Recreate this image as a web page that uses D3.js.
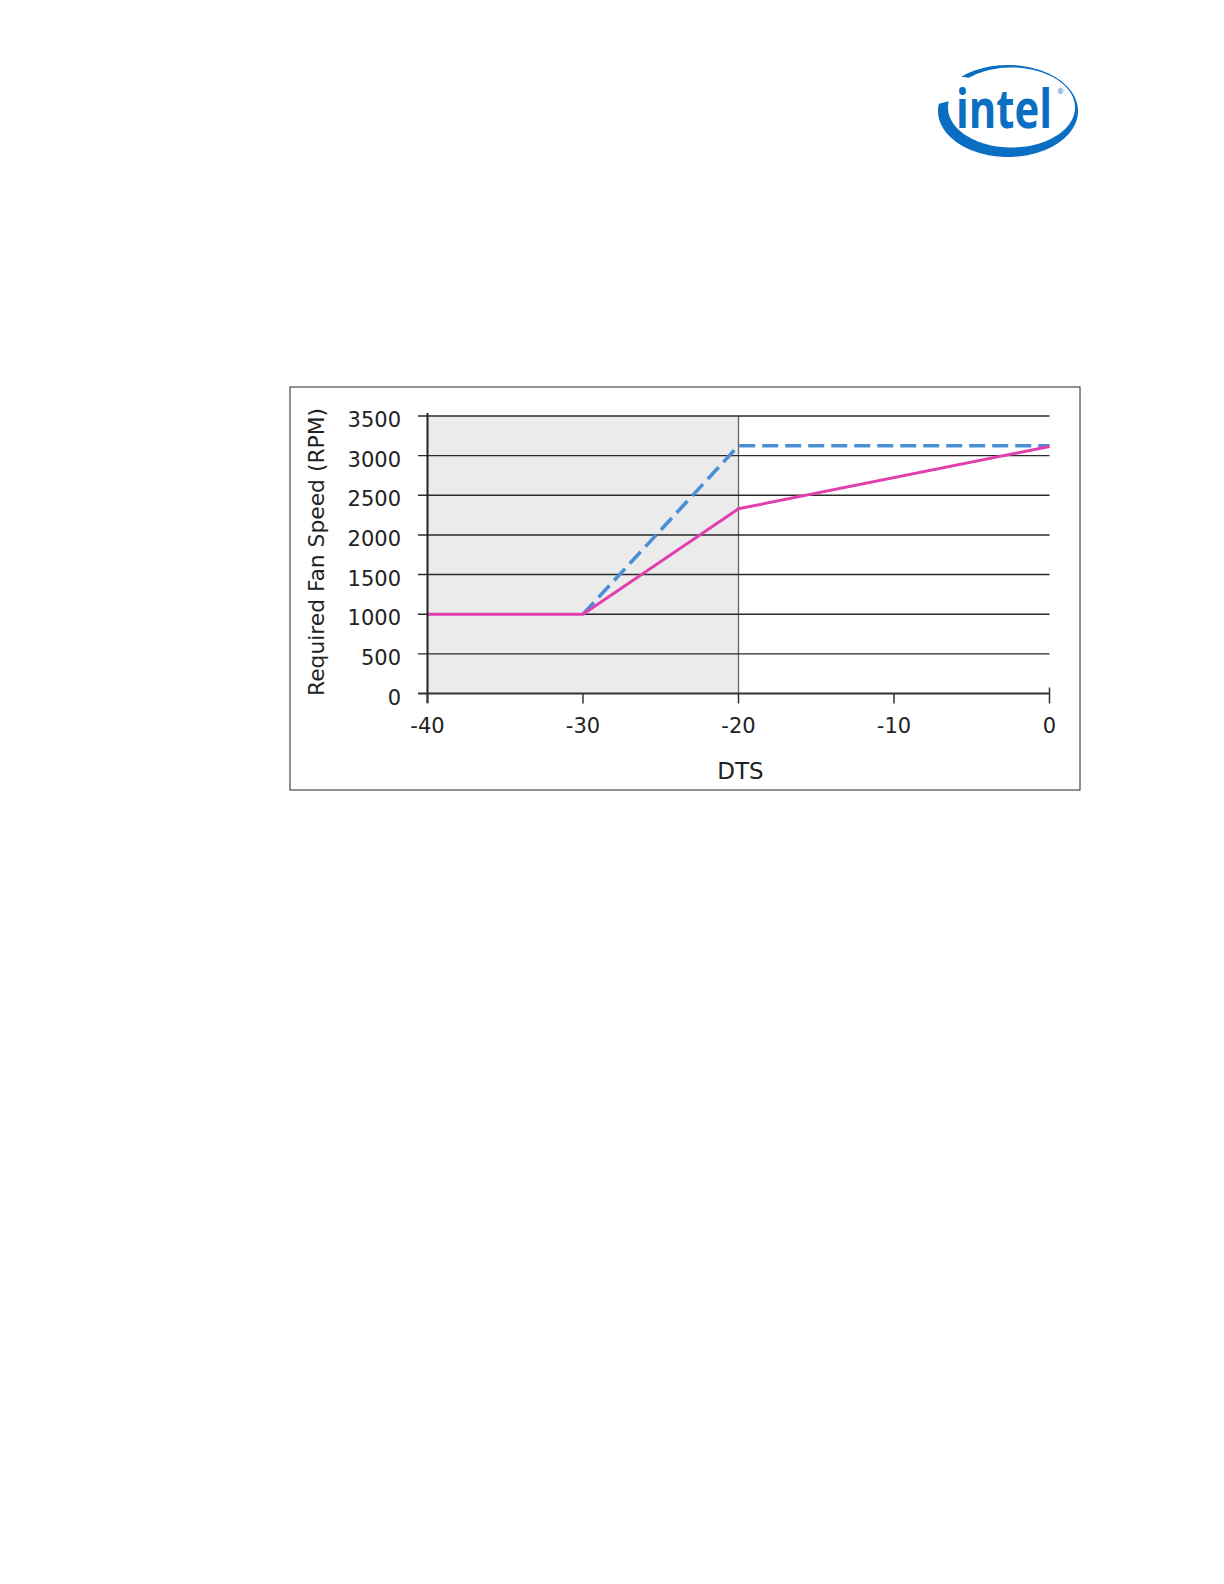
<!DOCTYPE html>
<html>
<head>
<meta charset="utf-8">
<script src="https://cdn.jsdelivr.net/npm/d3@7"></script>
<style>
  html, body { margin: 0; padding: 0; background: #fff; }
  svg { display: block; }
  text { font-family: "DejaVu Sans", Verdana, sans-serif; fill: #222; }
</style>
</head>
<body>
<script>
// ---- data ----
const xTicks = [-40, -30, -20, -10, 0];
const yTicks = [0, 500, 1000, 1500, 2000, 2500, 3000, 3500];
const pinkDTS = [-40, -30, -20, 0];
const pinkRPM = [1000, 1000, 2330, 3115];
const blueDTS = [-30, -20, 0];
const blueRPM = [1000, 3125, 3125];
const shadeRange = [-40, -20];
const yTitle = "Required Fan Speed (RPM)";
const xTitle = "DTS";

const W = 1224, H = 1584;
const svg = d3.select("body").append("svg").attr("width", W).attr("height", H);

// ---- Intel logo ----
const logo = svg.append("g");
(function () {
  const o = {cx: 1008, cy: 111, rx: 70, ry: 46};
  const inn = {cx: 1011.5, cy: 107.5, rx: 63.5, ry: 40};
  const t0 = 228 * Math.PI / 180, t1 = 549 * Math.PI / 180;
  const n = 120;
  const pts = [];
  for (let i = 0; i <= n; i++) {
    const t = t0 + (t1 - t0) * i / n;
    pts.push([o.cx + o.rx * Math.cos(t), o.cy + o.ry * Math.sin(t)]);
  }
  for (let i = n; i >= 0; i--) {
    const t = t0 + (t1 - t0) * i / n;
    pts.push([inn.cx + inn.rx * Math.cos(t), inn.cy + inn.ry * Math.sin(t)]);
  }
  logo.append("path").attr("d", d3.line()(pts) + "Z").attr("fill", "#0a6fc2");
  const word = logo.append("text")
    .attr("transform", "translate(956,128)")
    .style("font-family", "'Open Sans', sans-serif").style("font-weight", 700)
    .style("font-size", "53px").style("fill", "#0a6fc2").text("intel");
  const w = word.node().getComputedTextLength();
  word.attr("transform", `translate(956,128) scale(${96 / w},1)`);
  logo.append("text").attr("x", 1057).attr("y", 94)
    .style("font-family", "'Open Sans', sans-serif")
    .style("font-size", "8px").style("fill", "#0a6fc2").text("®");
})();

// ---- chart frame ----
svg.append("rect").attr("x", 290).attr("y", 387).attr("width", 790).attr("height", 403)
  .attr("fill", "#fff").attr("stroke", "#222").attr("stroke-width", 1);

const x = d3.scaleLinear().domain([-40, 0]).range([427.5, 1049.5]);
const y = d3.scaleLinear().domain([0, 3500]).range([693.5, 416]);

// shaded region
svg.append("rect")
  .attr("x", x(shadeRange[0])).attr("y", y(3500))
  .attr("width", x(shadeRange[1]) - x(shadeRange[0]))
  .attr("height", y(0) - y(3500))
  .attr("fill", "#ebebeb");
svg.append("line")
  .attr("x1", x(shadeRange[1])).attr("x2", x(shadeRange[1]))
  .attr("y1", y(3500)).attr("y2", y(0))
  .attr("stroke", "#666").attr("stroke-width", 1.3);

// gridlines + y ticks
svg.append("g").selectAll("line").data(yTicks.filter(d => d > 0)).join("line")
  .attr("x1", 418).attr("x2", x(0))
  .attr("y1", d => y(d)).attr("y2", d => y(d))
  .attr("stroke", "#2a2a2a").attr("stroke-width", 1.4);

// y tick labels
svg.append("g").selectAll("text").data(yTicks).join("text")
  .attr("x", 401).attr("y", d => y(d) + 11)
  .attr("text-anchor", "end")
  .style("font-size", "21px")
  .text(d => d);

// series
const line = d3.line().x(d => x(d[0])).y(d => y(d[1]));
svg.append("path")
  .attr("d", line(blueDTS.map((d, i) => [d, blueRPM[i]])))
  .attr("fill", "none").attr("stroke", "#4a8fd6").attr("stroke-width", 3.6)
  .attr("stroke-dasharray", "16,7");
svg.append("path")
  .attr("d", line(pinkDTS.map((d, i) => [d, pinkRPM[i]])))
  .attr("fill", "none").attr("stroke", "#e23fae").attr("stroke-width", 3);

// axes
svg.append("line").attr("x1", x(-40)).attr("x2", x(-40)).attr("y1", 413).attr("y2", 703)
  .attr("stroke", "#222").attr("stroke-width", 2);
svg.append("line").attr("x1", 418).attr("x2", x(0)).attr("y1", y(0)).attr("y2", y(0))
  .attr("stroke", "#333").attr("stroke-width", 2);
svg.append("g").selectAll("line").data(xTicks).join("line")
  .attr("x1", d => x(d)).attr("x2", d => x(d))
  .attr("y1", d => d === 0 ? y(0) - 6 : y(0)).attr("y2", y(0) + 10)
  .attr("stroke", "#333").attr("stroke-width", 1.5);
svg.append("g").selectAll("text").data(xTicks).join("text")
  .attr("x", d => x(d)).attr("y", 733)
  .attr("text-anchor", "middle")
  .style("font-size", "21px")
  .text(d => d);

// titles
svg.append("text").attr("transform", "translate(323.5,552) rotate(-90)")
  .attr("text-anchor", "middle").style("font-size", "21px")
  .attr("textLength", 288).attr("lengthAdjust", "spacingAndGlyphs")
  .text(yTitle);
svg.append("text").attr("x", 740.5).attr("y", 778.5)
  .attr("text-anchor", "middle").style("font-size", "23px")
  .text(xTitle);
</script>
</body>
</html>
